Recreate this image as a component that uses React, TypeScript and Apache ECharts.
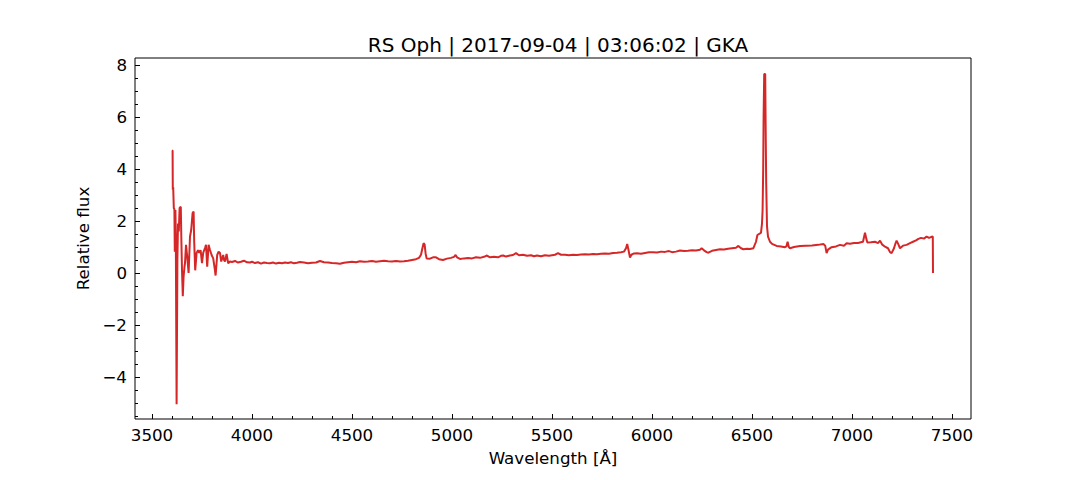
import * as echarts from 'echarts';
import { useEffect, useRef } from 'react';

// spectrum
const wavelength = [
    3600, 3603, 3604, 3606, 3609, 3612, 3614, 3617, 3619, 3623, 3627, 3630, 3634, 3638, 3644, 3647,
    3650, 3654, 3658, 3662, 3665, 3670, 3676, 3683, 3688, 3690, 3696, 3703, 3708, 3711, 3716, 3723,
    3730, 3736, 3743, 3750, 3756, 3765, 3770, 3776, 3783, 3790, 3798, 3806, 3813, 3818, 3826, 3833,
    3840, 3846, 3856, 3860, 3865, 3873, 3881, 3890, 3900, 3915, 3930, 3945, 3960, 3975, 3990, 4000,
    4015, 4030, 4045, 4060, 4075, 4090, 4105, 4120, 4135, 4150, 4165, 4180, 4195, 4210, 4225, 4240,
    4260, 4280, 4300, 4320, 4340, 4360, 4380, 4400, 4420, 4440, 4460, 4480, 4500, 4520, 4540, 4560,
    4580, 4600, 4620, 4640, 4660, 4680, 4700, 4720, 4740, 4760, 4780, 4800, 4820, 4835, 4845, 4852,
    4858, 4863, 4868, 4873, 4890, 4905, 4920, 4935, 4955, 4975, 4995, 5010, 5018, 5025, 5040, 5060,
    5080, 5100, 5120, 5140, 5160, 5175, 5190, 5210, 5230, 5245, 5256, 5270, 5290, 5305, 5320, 5335,
    5355, 5375, 5395, 5410, 5425, 5445, 5465, 5485, 5500, 5515, 5530, 5545, 5565, 5585, 5605, 5625,
    5645, 5665, 5685, 5705, 5725, 5745, 5765, 5785, 5805, 5825, 5845, 5860, 5870, 5876, 5882, 5890,
    5897, 5910, 5925, 5945, 5965, 5985, 6005, 6025, 6045, 6065, 6085, 6100, 6120, 6140, 6160, 6180,
    6200, 6220, 6240, 6248, 6260, 6273, 6282, 6300, 6320, 6340, 6360, 6380, 6400, 6420, 6432, 6445,
    6457, 6475, 6490, 6507, 6520, 6527, 6540, 6545, 6550, 6553, 6556, 6558, 6561, 6566, 6569, 6571,
    6575, 6580, 6590, 6600, 6623, 6645, 6665, 6672, 6678, 6684, 6690, 6710, 6740, 6770, 6800, 6830,
    6857, 6866, 6873, 6880, 6898, 6920, 6940, 6960, 6973, 6990, 7010, 7030, 7040, 7055, 7065, 7072,
    7077, 7095, 7115, 7130, 7140, 7150, 7165, 7180, 7190, 7198, 7210, 7218, 7223, 7232, 7240, 7255,
    7273, 7290, 7305, 7320, 7332, 7345, 7360, 7373, 7385, 7395, 7404, 7405,
];
const flux = [
    4.72, 4.7, 3.2, 3.3, 2.5, 2.45, 0.82, 2.42, 1.5, -5.05, 0.5, 1.9, 1.6, 2.5, 2.55, 1.2,
    0.1, -0.9, -0.14, 0.2, 0.38, 1.08, 0.63, 0.0, 1.0, 1.4, 1.65, 2.3, 2.36, 1.2, 0.1, 0.77,
    0.88, 0.77, 0.88, 0.38, 0.77, 0.96, 1.08, 0.24, 1.08, 0.88, 0.69, 0.56, 0.2, -0.1, 0.69, 0.82,
    0.77, 0.44, 0.69, 0.5, 0.44, 0.73, 0.37, 0.44, 0.42, 0.46, 0.4, 0.43, 0.47, 0.41, 0.4, 0.43,
    0.38, 0.41, 0.36, 0.4, 0.38, 0.37, 0.4, 0.36, 0.39, 0.37, 0.4, 0.38, 0.41, 0.37, 0.39, 0.42,
    0.4, 0.37, 0.39, 0.4, 0.46, 0.41, 0.4, 0.38, 0.37, 0.35, 0.39, 0.41, 0.43, 0.41, 0.45, 0.43,
    0.44, 0.46, 0.43, 0.45, 0.47, 0.45, 0.44, 0.46, 0.44, 0.45, 0.47, 0.5, 0.53, 0.58, 0.7, 0.95,
    1.14, 1.1, 0.75, 0.56, 0.55, 0.6, 0.6, 0.53, 0.5, 0.55, 0.58, 0.62, 0.69, 0.6, 0.54, 0.56,
    0.57, 0.56, 0.6, 0.58, 0.62, 0.67, 0.6, 0.62, 0.6, 0.66, 0.67, 0.63, 0.67, 0.69, 0.76, 0.68,
    0.7, 0.66, 0.68, 0.64, 0.67, 0.64, 0.68, 0.66, 0.68, 0.7, 0.76, 0.7, 0.7, 0.68, 0.7, 0.69,
    0.71, 0.72, 0.71, 0.73, 0.72, 0.74, 0.75, 0.74, 0.77, 0.78, 0.8, 0.82, 0.95, 1.11, 0.9, 0.59,
    0.7, 0.75, 0.76, 0.74, 0.77, 0.8, 0.8, 0.79, 0.82, 0.81, 0.84, 0.8, 0.82, 0.86, 0.84, 0.85,
    0.87, 0.86, 0.89, 0.95, 0.87, 0.8, 0.78, 0.85, 0.88, 0.91, 0.9, 0.93, 0.95, 0.97, 1.04, 0.95,
    0.91, 0.93, 0.92, 0.95, 1.2, 1.46, 1.52, 1.55, 1.9, 2.42, 4.0, 6.0, 7.65, 7.65, 5.0, 3.45,
    1.8, 1.4, 1.2, 1.12, 1.04, 1.02, 0.99, 1.02, 1.2, 1.0, 0.95, 1.0, 1.04, 1.05, 1.06, 1.08,
    1.11, 1.05, 0.76, 0.9, 0.99, 1.02, 1.08, 1.05, 1.14, 1.12, 1.15, 1.15, 1.17, 1.2, 1.55, 1.3,
    1.17, 1.18, 1.2, 1.15, 1.24, 1.1, 1.01, 0.95, 0.8, 0.76, 0.95, 1.15, 1.24, 1.1, 0.95, 1.05,
    1.08, 1.15, 1.2, 1.25, 1.31, 1.35, 1.32, 1.4, 1.35, 1.38, 1.4, 0.0,
];

const xMajor = [3500, 4000, 4500, 5000, 5500, 6000, 6500, 7000, 7500];
const yMajor = [-4, -2, 0, 2, 4, 6, 8];

const X_MIN = 3415;
const X_MAX = 7595;
const Y_MIN = -5.62;
const Y_MAX = 8.27;

// minor ticks: every 100 on x, every 0.5 on y
const xMinor: number[] = [];
for (let v = 3500; v <= 7500; v += 100) if (v % 500 !== 0) xMinor.push(v);
const yMinor: number[] = [];
for (let v = -5.5; v <= 8; v += 0.5) if (v % 2 !== 0) yMinor.push(v);

const FONT = 'DejaVu Sans';
const FS = 16.7;

export default function App() {
    const chartRef = useRef<HTMLDivElement>(null);

    useEffect(() => {
        const chart = echarts.init(chartRef.current, null, { renderer: 'svg' });

        const minorAxis = (min: number, max: number, values: number[], position: string) => ({
            type: 'value',
            min,
            max,
            position,
            axisLine: { show: false, onZero: false },
            axisLabel: { show: false },
            splitLine: { show: false },
            axisTick: {
                show: true,
                inside: true,
                length: 3,
                customValues: values,
                lineStyle: { color: '#000', width: 1 },
            },
        });

        chart.setOption({
            animation: false,
            title: {
                text: 'RS Oph | 2017-09-04 | 03:06:02 | GKA',
                left: 553,
                top: 30,
                textAlign: 'center',
                textStyle: { fontFamily: FONT, fontSize: 20, fontWeight: 'normal', color: '#000' },
            },
            grid: {
                left: 135,
                right: 109,
                top: 58,
                bottom: 61,
                show: true,
                borderColor: '#000',
                borderWidth: 1,
                backgroundColor: 'transparent',
            },
            xAxis: [
                {
                    type: 'value',
                    min: X_MIN,
                    max: X_MAX,
                    position: 'bottom',
                    name: 'Wavelength [Å]',
                    nameLocation: 'middle',
                    nameGap: 30,
                    nameTextStyle: { fontFamily: FONT, fontSize: FS, color: '#000' },
                    axisLine: { show: false, onZero: false },
                    splitLine: { show: false },
                    axisTick: {
                        show: true,
                        inside: true,
                        length: 5,
                        customValues: xMajor,
                        lineStyle: { color: '#000', width: 1 },
                    },
                    axisLabel: {
                        customValues: xMajor,
                        margin: 7,
                        fontFamily: FONT,
                        fontSize: FS,
                        color: '#000',
                        formatter: (v: number) => String(v),
                    },
                },
                minorAxis(X_MIN, X_MAX, xMinor, 'bottom'),
            ],
            yAxis: [
                {
                    type: 'value',
                    min: Y_MIN,
                    max: Y_MAX,
                    position: 'left',
                    name: 'Relative flux',
                    nameLocation: 'middle',
                    nameGap: 36,
                    nameTextStyle: { fontFamily: FONT, fontSize: FS, color: '#000' },
                    axisLine: { show: false, onZero: false },
                    splitLine: { show: false },
                    axisTick: {
                        show: true,
                        inside: true,
                        length: 5,
                        customValues: yMajor,
                        lineStyle: { color: '#000', width: 1 },
                    },
                    axisLabel: {
                        customValues: yMajor,
                        margin: 8,
                        fontFamily: FONT,
                        fontSize: FS,
                        color: '#000',
                        formatter: (v: number) => (v < 0 ? '\u2212' + Math.abs(v) : String(v)),
                    },
                },
                minorAxis(Y_MIN, Y_MAX, yMinor, 'left'),
            ],
            series: [
                {
                    type: 'line',
                    xAxisIndex: 0,
                    yAxisIndex: 0,
                    data: wavelength.map((w, i) => [w, flux[i]]),
                    showSymbol: false,
                    lineStyle: { color: '#d62728', width: 2 },
                    itemStyle: { color: '#d62728' },
                },
            ],
        });

        return () => {
            chart.dispose();
        };
    }, []);

    return <div
        ref={chartRef}
        style={{
            position: 'fixed',
            left: 0,
            top: 0,
            width: '1080px',
            height: '480px',
            background: '#fff',
        }}
    />
}
